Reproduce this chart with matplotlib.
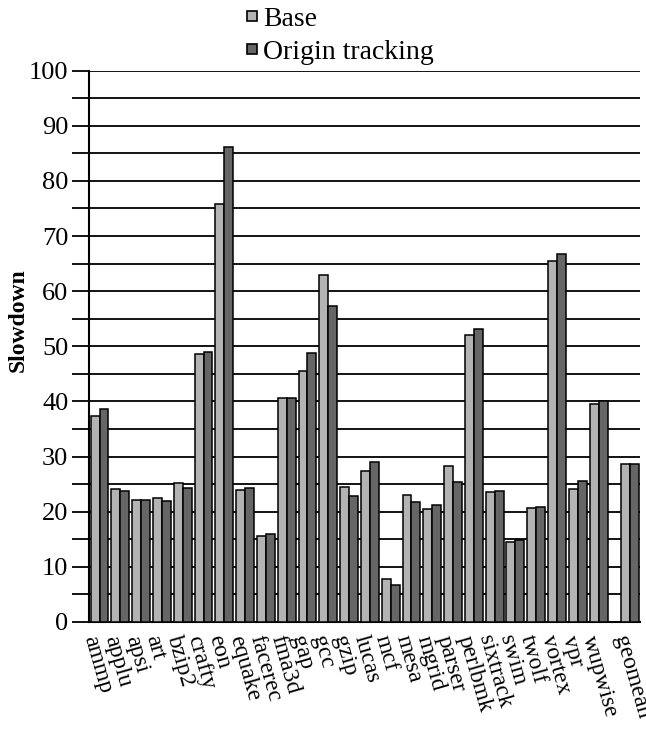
import matplotlib.pyplot as plt
from matplotlib.lines import Line2D
import numpy as np

plt.rcParams['font.family'] = ['Liberation Serif', 'DejaVu Serif']

benchmarks = ["ammp", "applu", "apsi", "art", "bzip2", "crafty", "eon", "equake",
              "facerec", "fma3d", "gap", "gcc", "gzip", "lucas", "mcf", "mesa",
              "mgrid", "parser", "perlbmk", "sixtrack", "swim", "twolf", "vortex",
              "vpr", "wupwise", "geomean"]
base = [37.3, 24.1, 22.1, 22.4, 25.2, 48.6, 75.8, 23.9, 15.5, 40.7, 45.5, 63.0, 24.4,
        27.3, 7.7, 23.1, 20.5, 28.2, 52.0, 23.6, 14.5, 20.6, 65.4, 24.2, 39.6, 28.7]
origin = [38.6, 23.8, 22.1, 22.0, 24.3, 49.0, 86.1, 24.3, 16.0, 40.7, 48.7, 57.3, 22.9,
          29.1, 6.7, 21.8, 21.2, 25.3, 53.2, 23.8, 14.9, 20.8, 66.7, 25.5, 40.1, 28.7]

base_color = "#b3b3b3"
origin_color = "#666666"

# geomean sits a little apart from the individual benchmarks
x = np.arange(len(benchmarks), dtype=float)
x[-1] += 0.5
w = 0.43

fig = plt.figure(figsize=(6.46, 7.36), dpi=100)
ax = fig.add_axes([0.138, 0.155, 0.853, 0.749])

ax.bar(x - w / 2, base, w, color=base_color, edgecolor="black", linewidth=1.1, zorder=3)
ax.bar(x + w / 2, origin, w, color=origin_color, edgecolor="black", linewidth=1.1, zorder=3)

ax.set_ylim(0, 100)
ax.set_xlim(-0.5, x[-1] + 0.5)
ax.set_yticks(np.arange(0, 101, 10))
ax.set_yticks(np.arange(5, 100, 10), minor=True)
ax.yaxis.grid(True, which="both", color="black", linewidth=1.3, zorder=0)
ax.tick_params(axis="y", which="major", length=12, width=1.3, labelsize=19, pad=3)
ax.tick_params(axis="y", which="minor", length=12, width=1.3)

ax.set_xticks(x)
ax.set_xticklabels(benchmarks, rotation=-74, ha="left", va="top",
                   rotation_mode="anchor", fontsize=17)
ax.tick_params(axis="x", length=0, pad=8)

for s in ["top", "right"]:
    ax.spines[s].set_visible(False)
ax.spines["left"].set_linewidth(1.5)
ax.spines["bottom"].set_linewidth(1.5)

ax.set_ylabel("Slowdown", fontsize=17, fontweight="bold")
ax.yaxis.set_label_coords(-0.11, 0.548)

# small square swatches for the legend
handles = [Line2D([], [], marker="s", linestyle="none", markersize=7.5,
                  markerfacecolor=c, markeredgecolor="black", markeredgewidth=1.2)
           for c in (base_color, origin_color)]
ax.legend(handles, ["Base", "Origin tracking"], loc="upper left",
          bbox_to_anchor=(0.356, 1.012), bbox_transform=fig.transFigure,
          frameon=False, fontsize=20, handlelength=0.5, handletextpad=0.15,
          labelspacing=0.28, borderpad=0.05)

fig.savefig("out.png", dpi=100)
